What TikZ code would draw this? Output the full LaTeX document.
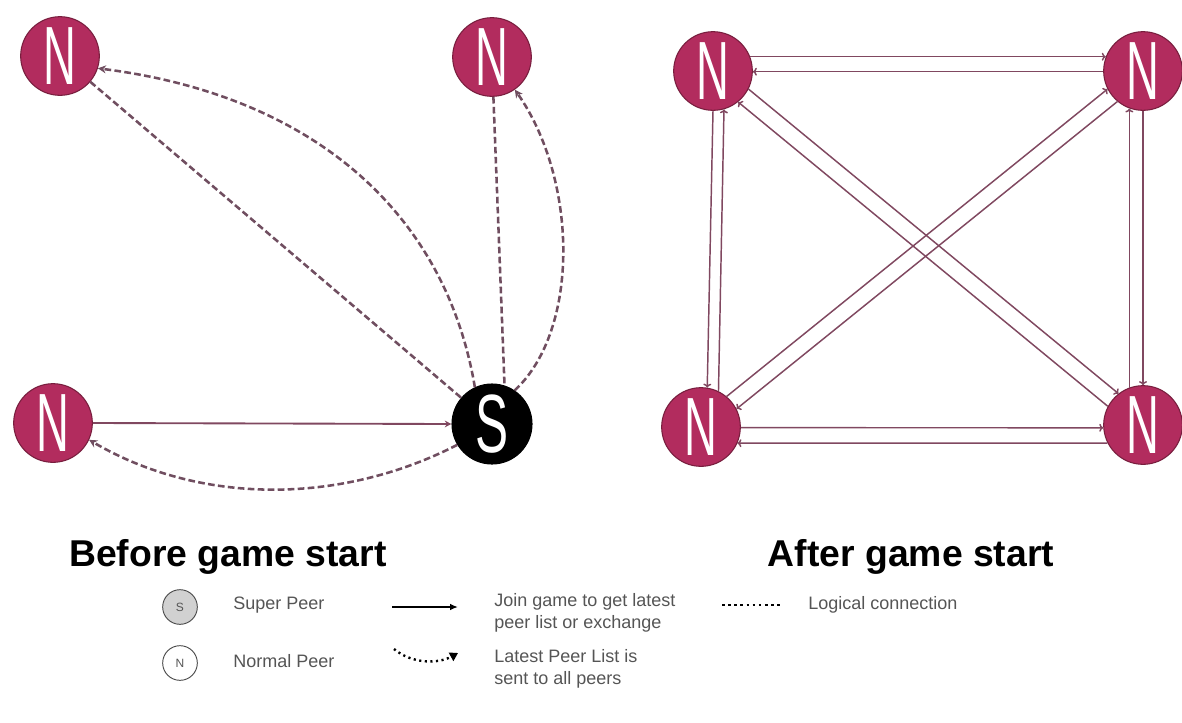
\documentclass[tikz,border=0pt]{standalone}
\usepackage{fontspec}
\setmainfont{Liberation Sans}
\usetikzlibrary{arrows.meta}
\definecolor{peercol}{RGB}{178,44,94}
\definecolor{peerdark}{RGB}{120,30,62}
\definecolor{dcol}{RGB}{112,78,96}
\definecolor{lcol}{RGB}{128,72,96}
\definecolor{legtext}{RGB}{85,85,85}
\newcommand\bigletter[2]{\scalebox{#2}[1]{\fontsize{62}{62}\selectfont #1}}
\tikzset{
  peer/.style={circle, fill=peercol, draw=peerdark, line width=0.8pt, minimum size=59pt, inner sep=0pt, text=white},
  superpeer/.style={peer, fill=black, draw=black, minimum size=60pt},
  plist/.style={draw=dcol, line width=1.9pt, dash pattern=on 5pt off 2.5pt, -{Stealth[length=6pt,width=6pt]}},
  plain/.style={draw=dcol, line width=1.9pt, dash pattern=on 5pt off 2.5pt},
  joinline/.style={draw=lcol, line width=1.4pt, -{Stealth[length=5pt,width=5pt]}},
  pairline/.style={draw=lcol, line width=1.1pt, -{To[length=3pt,width=6pt]}},
  title/.style={font=\fontsize{28}{32}\selectfont\bfseries, text=black},
  legtxt/.style={anchor=west, align=left, text=legtext, font=\fontsize{13.5}{17}\selectfont, inner sep=0pt},
  legpeer/.style={circle, draw=black!70, line width=0.7pt, minimum size=26pt, inner sep=0pt, text=legtext, font=\fontsize{9}{9}\selectfont},
}
\begin{document}
\begin{tikzpicture}[x=0.75pt, y=-0.75pt]
\fill[white] (0,0) rectangle (1182,722);
\useasboundingbox (0,0) rectangle (1182,722);

% ---- Before game start ----
\node[peer] (nA) at (60,56) {\bigletter{N}{0.55}};
\node[peer] (nB) at (492,57) {\bigletter{N}{0.55}};
\node[peer] (nC) at (53,423) {\bigletter{N}{0.55}};
\node[superpeer] (sp) at (492,424) {\bigletter{S}{0.6}};

\draw[joinline] (nC.0) -- (sp.180);
\draw[plist] (sp.211) .. controls (340,505) and (200,505) .. (nC.-25);
\draw[plain] (nA) -- (sp);
\draw[plist] (sp.115) .. controls (445,210) and (310,95) .. (nA.-18);
\draw[plain] (nB.-88) -- (sp.72);
\draw[plist] (sp.56) .. controls (580,330) and (578,180) .. (nB.-55);

% ---- After game start ----
\node[peer] (tl) at (713,71) {\bigletter{N}{0.55}};
\node[peer] (tr) at (1143,71) {\bigletter{N}{0.55}};
\node[peer] (bl) at (701,427) {\bigletter{N}{0.55}};
\node[peer] (br) at (1143,425) {\bigletter{N}{0.55}};

\draw[pairline] (tl.21) -- (tr.159);
\draw[pairline] (tr.181) -- (tl.-1);
\draw[pairline] (bl.-1) -- (br.184);
\draw[pairline] (br.207.5) -- (bl.-24);
\draw[pairline] (tl.-90) -- (bl.81);
\draw[pairline] (bl.64) -- (tl.-74);
\draw[pairline] (tr.-90) -- (br.90);
\draw[pairline] (br.110) -- (tr.-110);
\draw[pairline] (tl.-27.5) -- (br.128.9);
\draw[pairline] (br.152.6) -- (tl.-51.1);
\draw[pairline] (bl.50.7) -- (tr.207.1);
\draw[pairline] (tr.230.7) -- (bl.27.1);

% ---- Titles ----
\node[title] (t1) at (228,557) {Before game start};
\node[title] (t2) at (911,557) {After game start};

% ---- Legend ----
\node[legpeer, fill=black!18] (lsp) at (180,607) {S};
\node[legpeer, fill=white] (lnp) at (180,663) {N};
\node[legtxt] (lsptxt) at (233,605) {Super Peer};
\node[legtxt] (lnptxt) at (233,661) {Normal Peer};

\coordinate (ja) at (392,607);
\coordinate (jb) at (458,607);
\draw[black, line width=1.6pt, -{Latex[length=6pt,width=5pt]}] (ja) -- (jb);
\node[legtxt] (jtxt) at (494,613) {Join game to get latest\\peer list or exchange};

\coordinate (da) at (722,605);
\coordinate (db) at (780,605);
\draw[black, line width=2pt, dash pattern=on 2pt off 2.6pt] (da) -- (db);
\node[legtxt] (ltxt) at (808,605) {Logical connection};

\coordinate (ca) at (394,649);
\coordinate (cb) at (458,653);
\draw[black, line width=1.8pt, dash pattern=on 1.6pt off 2.6pt, -{Triangle[length=6pt,width=7pt]}] (ca) .. controls (412,664) and (438,664) .. (cb);
\node[legtxt] (ptxt) at (494,669) {Latest Peer List is\\sent to all peers};
\end{tikzpicture}
\end{document}
